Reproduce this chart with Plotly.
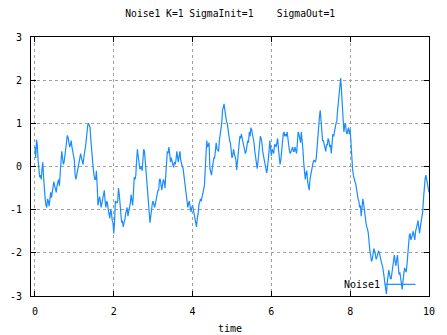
import numpy as np
import plotly.graph_objects as go

# ---- data ----
dt = 0.02
# samples at t = 0.00, 0.04, 0.08, ... 10.00
noise1_even = [
    0.45, 0.62, 0.15, -0.25, -0.3, 0.1, -0.6, -0.9, -0.75, -0.92, -0.6, -0.6, -0.35, -0.55,
    -0.45, -0.3, -0.05, 0.35, 0.05, 0.35, 0.55, 0.68, 0.45, 0.6, 0.35, 0.15, -0.3, -0.1, 0.05,
    0.3, 0.1, 0.2, 0.45, 0.8, 1.0, 0.9, 0.3, -0.05, -0.3, -0.1, -0.9,
    -0.7, -0.95, -0.75, -0.55, -0.95, -0.85, -1.17, -1.0, -1.25, -1.55, -0.8, -0.85, -0.5,
    -0.95, -1.3, -1.4, -1.25, -1.05, -1.15, -0.95, -0.65, -0.9, -0.25, -0.2, 0.4, 0.05, -0.05,
    -0.1, 0.4, 0.1, -0.3, -0.85, -1.3, -0.95, -0.8, -0.95, -0.75, -0.55, -0.3, -0.5, -0.4, -0.35,
    -0.2, 0.35, 0.45, 0.1, 0.15, -0.02, 0.05, 0.35, 0.1, 0.35, 0.1, -0.05, -0.35, -0.75,
    -0.95, -0.8, -1.05, -0.9, -1.1, -1.35, -1.2, -0.9, -0.75, -0.7, -0.55, -0.1, 0.6, 0.5,
    -0.05, -0.2, 0.18, 0.2, 0.55, 0.35, 0.6, 0.8, 1.3, 1.45, 1.15, 1.0, 0.7, 0.55, 0.2,
    0.4, 0.25, -0.08, 0.3, 0.7, 0.75, 0.55, 0.4, 0.35, 0.6, 0.8, 0.9, 0.75, 0.55, 0.25,
    -0.05, 0.3, 0.7, 0.55, 0.25, 0.05, -0.15, 0.1, 0.6, 0.25, 0.35, 0.5, 0.45, 0.65, 0.1,
    0.15, 0.7, 0.8, 0.75, 0.8, 0.4, 0.3, 0.4, 0.35, 0.45, 0.3, 0.8,
    0.65, 0.8, 0.4, -0.2, -0.15, -0.35, -0.55, -0.2, 0.0, 0.15, 0.1, 0.5, 0.85, 1.3, 0.8,
    0.6, 0.45, 0.5, 0.65, 0.45, 0.3, 0.75, 0.85, 1.0, 1.3, 1.6, 2.05, 1.35, 0.8, 1.0, 0.75,
    0.9, 0.85, 0.0, -0.2, -0.35, -0.55, -0.75, -0.95, -1.15, -0.75, -1.05,
    -1.3, -1.45, -1.8, -2.05, -2.15, -1.9, -2.05, -2.1, -1.95, -2.1, -2.25, -2.4, -2.7,
    -2.95, -2.55, -2.5, -2.6, -2.25, -2.05, -2.3, -2.05, -2.5, -2.6, -2.85, -2.5, -2.4, -2.3,
    -1.75, -1.55, -1.65, -1.5, -1.7, -1.45, -1.25, -1.55, -1.3, -1.05, -0.4, -0.2, -0.45, -0.6,
]
# samples at t = 0.02, 0.06, 0.10, ... 9.98
noise1_odd = [
    0.2, 0.5, -0.1, -0.2, -0.05, -0.25, -0.75, -0.95, -0.8, -0.7, -0.72, -0.5, -0.45, -0.6,
    -0.35, -0.45, 0.1, 0.2, 0.1, 0.4, 0.72, 0.55, 0.5, 0.45, 0.25, -0.2, -0.2, 0.0, 0.15,
    0.2, 0.05, 0.3, 0.6, 0.95, 0.95, 0.6, 0.05, -0.2, -0.3, -0.45,
    -0.8, -0.8, -0.85, -0.7, -0.8, -0.8, -1.0, -1.2, -1.05, -1.3, -1.3, -0.85, -0.8, -0.65,
    -1.1, -1.25, -1.3, -1.1, -0.95, -1.05, -0.85, -0.75, -0.6, -0.3, 0.15, 0.25, -0.05, 0.0,
    0.2, 0.35, -0.05, -0.6, -1.1, -1.15, -0.85, -0.9, -0.85, -0.7, -0.55, -0.3, -0.55, -0.3,
    -0.5, 0.1, 0.3, 0.3, 0.2, 0.05, 0.1, 0.15, 0.2, 0.25, 0.15, 0.0, -0.2, -0.5, -0.8,
    -0.85, -0.95, -0.95, -1.0, -1.25, -1.4, -1.1, -0.85, -0.8, -0.65, -0.45, 0.2, 0.45, 0.55,
    -0.1, -0.05, 0.2, 0.45, 0.4, 0.35, 0.75, 1.0, 1.35, 1.3, 1.05, 0.85, 0.6, 0.3,
    0.25, 0.3, 0.15, 0.1, 0.5, 0.65, 0.65, 0.5, 0.3, 0.45, 0.55, 0.7, 0.85, 0.65, 0.35,
    0.1, 0.1, 0.55, 0.65, 0.35, 0.15, -0.05, -0.05, 0.35, 0.35, 0.4, 0.3, 0.5, 0.55, 0.4,
    0.05, 0.4, 0.75, 0.7, 0.7, 0.6, 0.35, 0.35, 0.45, 0.35, 0.4, 0.55,
    0.75, 0.55, 0.45, 0.1, -0.3, -0.1, -0.45, -0.3, -0.05, 0.1, 0.13, 0.2, 0.65, 1.15, 1.0,
    0.6, 0.5, 0.35, 0.5, 0.6, 0.5, 0.55, 0.7, 0.9, 1.05, 1.5, 1.8, 1.75, 1.0, 0.95, 0.8,
    0.85, 0.75, 0.55, -0.05, -0.3, -0.4, -0.7, -0.8, -0.9, -0.95, -0.85,
    -1.15, -1.4, -1.55, -1.95, -2.2, -2.0, -1.95, -2.15, -2.0, -2.0, -2.2, -2.3, -2.55,
    -2.85, -2.7, -2.4, -2.6, -2.45, -2.2, -2.2, -2.15, -2.3, -2.45, -2.7, -2.65, -2.35, -2.45,
    -2.05, -1.6, -1.7, -1.55, -1.6, -1.5, -1.35, -1.4, -1.4, -1.15, -0.75, -0.3, -0.3, -0.55,
]
noise1 = []
for a, b in zip(noise1_even[:-1], noise1_odd):
    noise1 += [a, b]
noise1.append(noise1_even[-1])
time = [round(i * dt, 2) for i in range(len(noise1))]

x_ticks = [0, 2, 4, 6, 8, 10]
y_ticks = [-3, -2, -1, 0, 1, 2, 3]

title_text = "Noise1 K=1 SigmaInit=1    SigmaOut=1"
series_name = "Noise1"
x_title = "time"

FONT = "DejaVu Sans Mono"
LINE_COLOR = "#1a8cff"

fig = go.Figure()
fig.add_trace(go.Scatter(x=time, y=noise1, mode="lines", name=series_name,
                         line=dict(color=LINE_COLOR, width=1.2), showlegend=False))

axis_common = dict(
    showline=True, linecolor="black", linewidth=1, mirror="allticks",
    ticks="inside", ticklen=5, tickcolor="black", tickwidth=1,
    showgrid=True, gridcolor="#a0a0a0", gridwidth=1, griddash="dot",
    zeroline=False, tickfont=dict(family=FONT, size=10, color="black"),
    automargin=False,
)
fig.update_xaxes(range=[-0.1, 10], tickvals=x_ticks, ticktext=[str(v) for v in x_ticks],
                 title=dict(text=x_title, font=dict(family=FONT, size=10, color="black"), standoff=8),
                 ticklabelstandoff=6, **axis_common)
fig.update_yaxes(range=[-3, 3], tickvals=y_ticks, ticktext=[str(v) for v in y_ticks],
                 ticklabelstandoff=6, **axis_common)

# gnuplot-style key: label on the left, line sample on the right
fig.add_annotation(xref="paper", yref="paper", x=0.882, y=0.045, text=series_name, showarrow=False,
                   xanchor="right", yanchor="middle", font=dict(family=FONT, size=10, color="black"))
fig.add_shape(type="line", xref="paper", yref="paper", x0=0.889, x1=0.966, y0=0.045, y1=0.045,
              line=dict(color=LINE_COLOR, width=1.2))

fig.update_layout(
    width=447, height=335,
    margin=dict(l=31, r=18, t=37, b=39, autoexpand=False),
    paper_bgcolor="white", plot_bgcolor="white",
    title=dict(text=title_text, x=0.515, xanchor="center", y=0.958, yanchor="middle",
               font=dict(family=FONT, size=9.7, color="black")),
    font=dict(family=FONT, size=10, color="black"),
)

fig.write_html("out.html")
